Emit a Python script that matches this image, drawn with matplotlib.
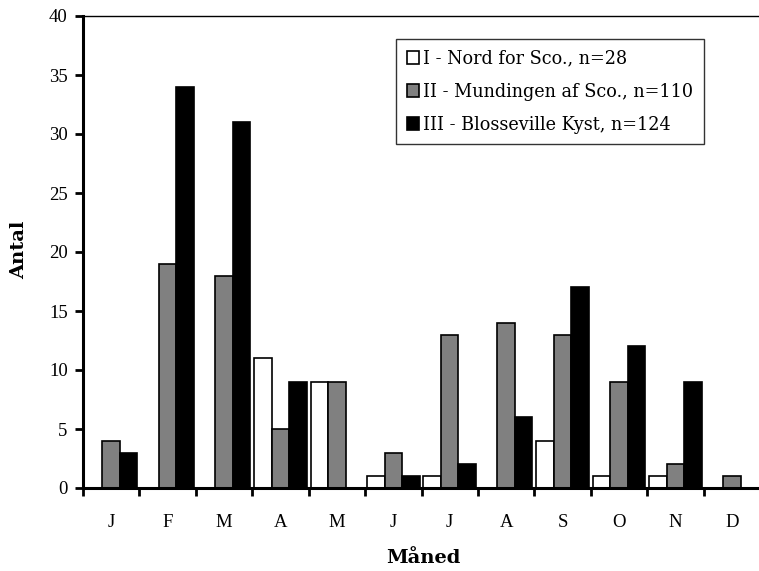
import numpy as np
import matplotlib
matplotlib.use("Agg")
import matplotlib.pyplot as plt

plt.rcParams['font.family'] = ['Liberation Serif', 'DejaVu Serif']

months = ['J', 'F', 'M', 'A', 'M', 'J', 'J', 'A', 'S', 'O', 'N', 'D']
nord = [0, 0, 0, 11, 9, 1, 1, 0, 4, 1, 1, 0]
mundingen = [4, 19, 18, 5, 9, 3, 13, 14, 13, 9, 2, 1]
blosseville = [3, 34, 31, 9, 0, 1, 2, 6, 17, 12, 9, 0]
labels = ['I - Nord for Sco., n=28',
          'II - Mundingen af Sco., n=110',
          'III - Blosseville Kyst, n=124']

fig = plt.figure(figsize=(7.59, 5.71), dpi=100)
ax = fig.add_axes([83 / 759, 1 - 488 / 571, 677 / 759, 472 / 571])

x = np.arange(len(months)) + 0.5
w = 0.31
series = [nord, mundingen, blosseville]
colors = ['white', '#808080', 'black']
for i, (vals, col, lab) in enumerate(zip(series, colors, labels)):
    ax.bar(x + (i - 1) * w, vals, width=w, color=col, edgecolor='black',
           linewidth=1.2, label=lab)

ax.set_xlim(0, 12)
ax.set_ylim(0, 40)
ax.set_yticks(range(0, 41, 5))
ax.set_xticks(np.arange(0, 13))
ax.set_xticklabels([])
ax.set_xticks(x, minor=True)
ax.set_xticklabels(months, minor=True)
ax.tick_params(axis='x', which='minor', length=0, pad=19, labelsize=13.5)
ax.tick_params(axis='x', which='major', direction='out', length=6, width=2)
ax.tick_params(axis='y', direction='out', length=6, width=2, pad=5, labelsize=13.5)

ax.spines['left'].set_linewidth(2.2)
ax.spines['bottom'].set_linewidth(2.2)
ax.spines['top'].set_linewidth(1)
ax.spines['right'].set_visible(False)

fig.text(19 / 759, 1 - 250 / 571, 'Antal', rotation=90, ha='center', va='center',
         fontsize=14, fontweight='bold', family='DejaVu Serif')
fig.text(423 / 759, 1 - 558 / 571, 'Måned', ha='center', va='center',
         fontsize=14, fontweight='bold', family='DejaVu Serif')

leg = ax.legend(loc='upper left', bbox_to_anchor=(313 / 677, 1 - 23 / 472),
                prop={'family': 'DejaVu Serif', 'size': 12.7},
                frameon=True, fancybox=False, edgecolor='black',
                handlelength=0.7, handleheight=0.7, handletextpad=0.25,
                borderpad=0.6, labelspacing=0.85, borderaxespad=0)
leg.get_frame().set_linewidth(1)

fig.savefig('out.png', dpi=100)
